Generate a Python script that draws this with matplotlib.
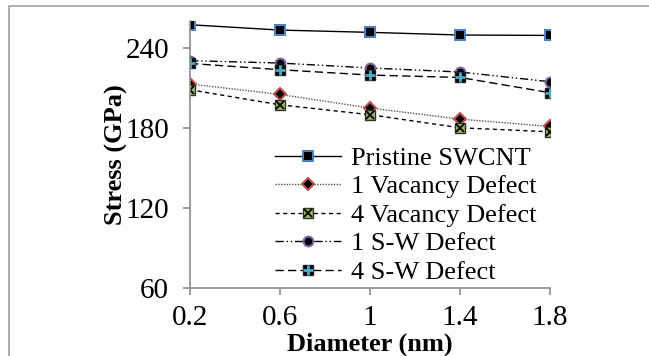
import numpy as np
import matplotlib.pyplot as plt
from matplotlib.patches import Rectangle

diameter = [0.2, 0.6, 1.0, 1.4, 1.8]
pristine = [257.2, 253.2, 251.5, 249.5, 249.2]
vac1 = [212.8, 205.0, 194.8, 186.5, 181.0]
vac4 = [208.5, 197.2, 189.8, 180.0, 177.0]
sw1 = [230.3, 228.5, 224.8, 221.8, 214.5]
sw4 = [228.2, 223.5, 219.5, 217.7, 206.3]

labels = ["Pristine SWCNT", "1 Vacancy Defect", "4 Vacancy Defect",
          "1 S-W Defect", "4 S-W Defect"]

plt.rcParams['font.family'] = ['Liberation Serif', 'DejaVu Serif']

fig = plt.figure(figsize=(6.49, 3.56), dpi=100)
ax = fig.add_axes([190/649, 1-288/356, 360/649, 267/356])

ms = 7
h1, = ax.plot(diameter, pristine, color='black', lw=1, ls='-',
              marker='s', ms=ms, mfc='black', mec='#4F81BD', mew=1.5)
h2, = ax.plot(diameter, vac1, color='#555555', lw=1, ls=(0, (1, 1)),
              marker='D', ms=6, mfc='black', mec='#C0504D', mew=1.5)
h3a, = ax.plot(diameter, vac4, color='black', lw=1, ls=(0, (3, 2.5)),
               marker='s', ms=ms, mfc='#9BBB59', mec='#333333', mew=1)
h3b, = ax.plot(diameter, vac4, ls='none', marker='x', ms=5.5, mec='black', mew=1.3)
h4, = ax.plot(diameter, sw1, color='black', lw=1, ls=(0, (6, 2, 1, 2, 1, 2)),
              marker='o', ms=ms, mfc='black', mec='#8064A2', mew=1.5)
h5a, = ax.plot(diameter, sw4, color='black', lw=1, ls=(0, (6, 3)),
               marker='s', ms=ms, mfc='black', mec='#222222', mew=1)
h5b, = ax.plot(diameter, sw4, ls='none', marker='+', ms=7.5, mec='#4BACC6', mew=2)

ax.set_xlim(0.2, 1.8)
ax.set_ylim(60, 260)
ax.set_xticks([0.2, 0.6, 1.0, 1.4, 1.8])
ax.set_xticklabels(['0.2', '0.6', '1', '1.4', '1.8'])
ax.set_yticks([60, 120, 180, 240])

for s in ['top', 'right']:
    ax.spines[s].set_visible(False)
for s in ['left', 'bottom']:
    ax.spines[s].set_color('#8C8C8C')
    ax.spines[s].set_linewidth(1.2)
ax.tick_params(axis='both', colors='#8C8C8C', labelcolor='black',
               labelsize=21, length=5, width=1.2)
ax.tick_params(axis='y', pad=10)
ax.tick_params(axis='x', pad=7)

ax.set_xlabel("Diameter (nm)", fontsize=19, fontweight='bold')
ax.set_ylabel("Stress (GPa)", fontsize=19, fontweight='bold')
ax.xaxis.set_label_coords(0.5, -0.168)
ax.yaxis.set_label_coords(-0.172, 0.5)

leg = ax.legend([h1, h2, (h3a, h3b), h4, (h5a, h5b)], labels,
                loc='lower left', bbox_to_anchor=(0.186, -0.054),
                frameon=False, fontsize=19, handlelength=2.5,
                handletextpad=0.35, labelspacing=0.19, borderpad=0.2)

fig.patches.append(Rectangle((9/649, -0.02), 1.0, 1-6/356+0.02,
                             transform=fig.transFigure, fill=False,
                             edgecolor='#A0A0A0', lw=1.2))

fig.savefig('out.png', dpi=100)
